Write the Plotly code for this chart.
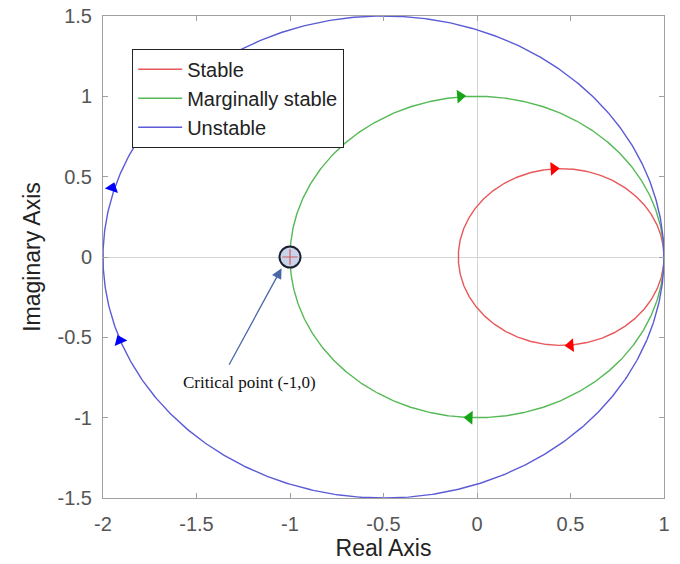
import numpy as np
import plotly.graph_objects as go

# Nyquist contours: each is a circle through (1, 0), given by centre and radius
series_names = ["Stable", "Marginally stable", "Unstable"]
centers_re = [0.45, 0.0, -0.5]
radii = [0.55, 1.0, 1.5]
line_colors = ["#e8575a", "#55b955", "#5b5bd6"]
arrow_colors = ["#ff0000", "#17a317", "#0000ff"]

# direction arrows on each contour (real, imag)
arrow_re = [[0.41, 0.50], [-0.09, -0.04], [-1.95, -1.91]]
arrow_im = [[0.55, -0.55], [1.0, -1.0], [0.43, -0.52]]

crit_re, crit_im = -1.0, 0.0
crit_label = "Critical point (-1,0)"

x_ticks = [-2, -1.5, -1, -0.5, 0, 0.5, 1]
y_ticks = [-1.5, -1, -0.5, 0, 0.5, 1, 1.5]

W, H = 680, 564
M = dict(l=103, r=16, t=16, b=66)
px_x = (W - M["l"] - M["r"]) / 3.0
px_y = (H - M["t"] - M["b"]) / 3.0

fig = go.Figure()
theta = np.linspace(0, 2 * np.pi, 721)
for name, c, r, lc in zip(series_names, centers_re, radii, line_colors):
    fig.add_trace(go.Scatter(
        x=c + r * np.cos(theta), y=r * np.sin(theta), mode="lines",
        line=dict(color=lc, width=1.4), name=name))

# clockwise traversal arrows, rotated along the tangent in screen space
for c, r, ac, xs, ys in zip(centers_re, radii, arrow_colors, arrow_re, arrow_im):
    angles = []
    for xa, ya in zip(xs, ys):
        dx, dy = xa - c, ya
        tx, ty = dy * px_x, -dx * px_y  # screen units (y up)
        angles.append(np.degrees(np.arctan2(tx, ty)))  # clockwise from up
    fig.add_trace(go.Scatter(
        x=xs, y=ys, mode="markers", showlegend=False, hoverinfo="skip",
        marker=dict(symbol="triangle-up", size=12, color=ac, angle=angles,
                    line=dict(width=0))))

# critical point
fig.add_trace(go.Scatter(
    x=[crit_re], y=[crit_im], mode="markers", showlegend=False,
    marker=dict(symbol="circle", size=21, color="#c9d3ea",
                line=dict(color="#1a2030", width=2))))
fig.add_trace(go.Scatter(
    x=[crit_re], y=[crit_im], mode="markers", showlegend=False,
    marker=dict(symbol="cross-thin", size=11,
                line=dict(color="#d06060", width=1.2))))

fig.add_annotation(x=-1.045, y=-0.07, ax=-1.33, ay=-0.68,
                   xref="x", yref="y", axref="x", ayref="y", text="",
                   showarrow=True, arrowhead=2, arrowsize=1.6, arrowwidth=1.3,
                   arrowcolor="#4a68a8")
fig.add_annotation(x=-1.215, y=-0.78, xref="x", yref="y", text=crit_label,
                   showarrow=False,
                   font=dict(family="Liberation Serif", size=17, color="#111"))

axis_common = dict(showgrid=False, zeroline=True, zerolinecolor="#d4d4d4",
                   zerolinewidth=1, showline=True, linecolor="#a0a0a0",
                   linewidth=1, mirror="ticks", ticks="inside", ticklen=5,
                   tickcolor="#a0a0a0", automargin=False,
                   tickfont=dict(family="Arial", size=20, color="#555"))
fig.update_xaxes(range=[-2, 1], tickvals=x_ticks,
                 ticktext=[f"{v:g}" for v in x_ticks], ticklabelstandoff=8,
                 title=dict(text="Real Axis", font=dict(family="Arial", size=23, color="#222"),
                            standoff=2), **axis_common)
fig.update_yaxes(range=[-1.5, 1.5], tickvals=y_ticks,
                 ticktext=[f"{v:g}" for v in y_ticks], ticklabelstandoff=6,
                 title=dict(text="Imaginary Axis", font=dict(family="Arial", size=23, color="#222"),
                            standoff=10), **axis_common)

fig.update_layout(
    width=W, height=H, margin=M, plot_bgcolor="white", paper_bgcolor="white",
    showlegend=True,
    legend=dict(x=0.052, y=0.932, xanchor="left", yanchor="top",
                bgcolor="white", bordercolor="#222", borderwidth=1,
                font=dict(family="Arial", size=20, color="#222"),
                itemwidth=44),
)

fig.write_html("out.html")
